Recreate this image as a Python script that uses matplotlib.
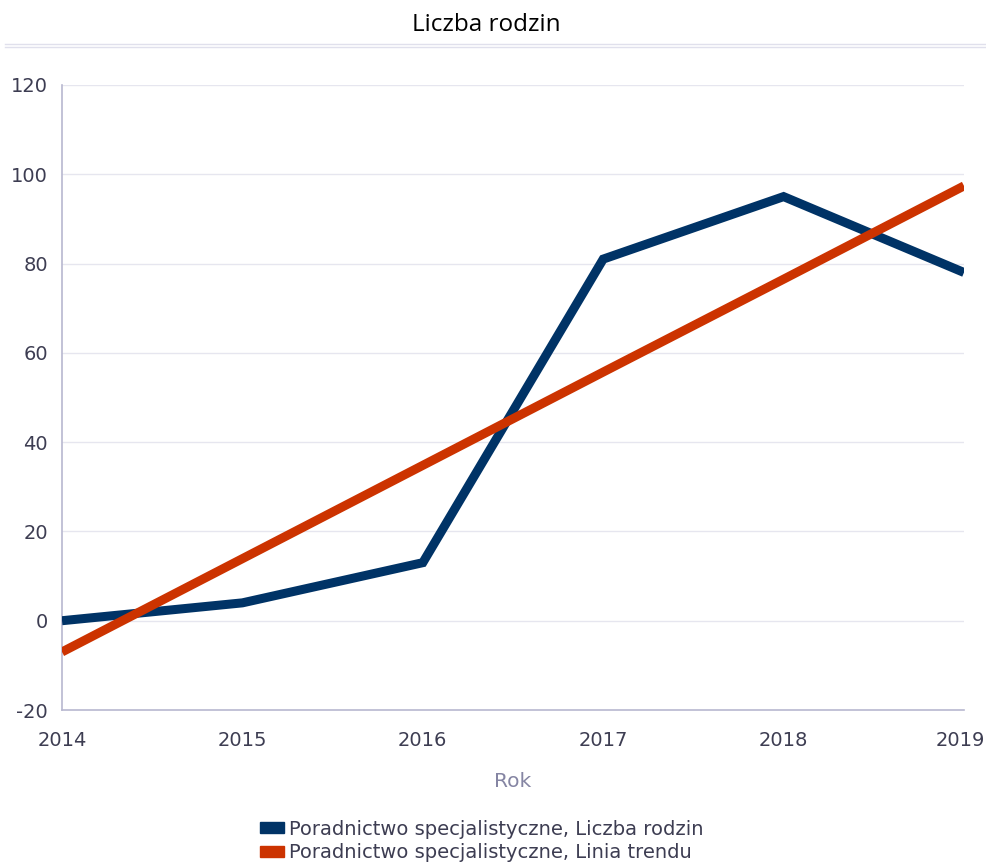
import matplotlib.pyplot as plt
from matplotlib.lines import Line2D
from matplotlib.patches import Patch
from matplotlib.transforms import ScaledTranslation

years = [2014, 2015, 2016, 2017, 2018, 2019]
families = [0, 4, 13, 81, 95, 78]
trend = [-7.0, 13.9, 34.8, 55.7, 76.5, 97.4]
y_ticks = [-20, 0, 20, 40, 60, 80, 100, 120]
series_names = ["Poradnictwo specjalistyczne, Liczba rodzin",
                "Poradnictwo specjalistyczne, Linia trendu"]

blue = "#003366"
orange = "#cc3300"
text_col = "#3d3d52"

plt.rcParams['font.family'] = ['DejaVu Sans']
plt.rcParams['axes.unicode_minus'] = False

fig = plt.figure(figsize=(9.87, 8.67), dpi=100)
ax = fig.add_axes([62 / 987, 1 - 710 / 867, (964 - 62) / 987, (710 - 85) / 867])

ax.plot(years, families, color=blue, lw=6.5, solid_capstyle='butt', solid_joinstyle='miter', zorder=3)
ax.plot(years, trend, color=orange, lw=6.5, solid_capstyle='butt', zorder=4)

ax.set_xlim(2014, 2019)
ax.set_ylim(-20, 120)
ax.set_yticks(y_ticks)
ax.set_xticks(years)
ax.set_xticklabels([str(y) for y in years])
ax.grid(axis='y', color='#e6e6ef', lw=1)
ax.set_axisbelow(True)
for s in ['top', 'right']:
    ax.spines[s].set_visible(False)
for s in ['left', 'bottom']:
    ax.spines[s].set_color('#b8b8d0')
    ax.spines[s].set_linewidth(1.2)
ax.tick_params(length=0, labelsize=14, colors=text_col)
ax.tick_params(axis='x', pad=15)
ax.tick_params(axis='y', pad=10)

# keep last year label inside the figure
last = ax.get_xticklabels()[-1]
last.set_transform(last.get_transform() + ScaledTranslation(-4 / 100, 0, fig.dpi_scale_trans))

ax.set_xlabel("Rok", fontsize=14.5, color='#8585a3', labelpad=16)

fig.text(0.493, 1 - 25 / 867, "Liczba rodzin", ha='center', va='center', fontsize=17.5,
         color='black', family='Open Sans')
fig.add_artist(Line2D([5 / 987, 1], [1 - 44 / 867] * 2, color='#e0e0ec', lw=1))
fig.add_artist(Line2D([5 / 987, 1], [1 - 47 / 867] * 2, color='#e0e0ec', lw=1))

handles = [Patch(color=blue), Patch(color=orange)]
fig.legend(handles, series_names, loc='center', bbox_to_anchor=(0.488, 1 - 841 / 867),
           frameon=False, fontsize=14, labelcolor=text_col, handlelength=1.2, handleheight=0.45,
           handletextpad=0.25, labelspacing=0.25, borderpad=0)

fig.savefig("out.png", dpi=100)
